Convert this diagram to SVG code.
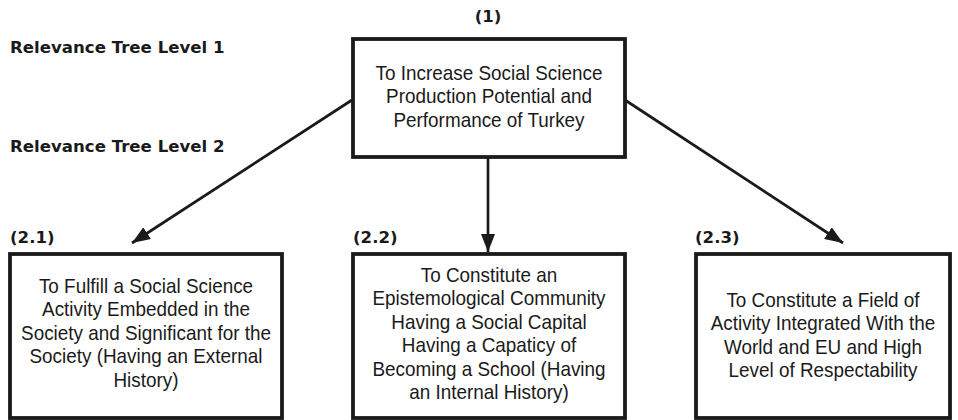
<svg xmlns="http://www.w3.org/2000/svg" width="958" height="420" viewBox="0 0 958 420">
<defs>
<marker id="ah" viewBox="0 0 18 14" refX="18" refY="7" markerWidth="18" markerHeight="14" markerUnits="userSpaceOnUse" orient="auto">
<path d="M0,0 L18,7 L0,14 Z" fill="#1a1a1a"/>
</marker>
<style>
.box{fill:#fff;stroke:#1a1a1a;stroke-width:3.8}
.t{font-family:"Liberation Sans","Arial",sans-serif;font-size:21px;fill:#1a1a1a;text-anchor:middle}
.b{font-family:"DejaVu Sans","Liberation Sans",sans-serif;font-weight:bold;font-size:16.6px;fill:#1a1a1a}
.c{stroke:#1a1a1a;stroke-width:2.7;fill:none;marker-end:url(#ah)}
</style>
</defs>
<text class="b" x="10" y="53">Relevance Tree Level 1</text>
<text class="b" x="10" y="152">Relevance Tree Level 2</text>
<g id="connectors">
<line class="c" x1="352" y1="100" x2="132" y2="243"/>
<line class="c" x1="488" y1="157" x2="488" y2="252"/>
<line class="c" x1="625" y1="100" x2="843" y2="243"/>
</g>
<g id="n1">
<text class="b" x="488" y="22" text-anchor="middle">(1)</text>
<rect class="box" x="353" y="39" width="272" height="118"/>
<g transform="translate(489 0) scale(0.9 1)">
<text class="t" x="0" y="80">To Increase Social Science</text>
<text class="t" x="0" y="103.5">Production Potential and</text>
<text class="t" x="0" y="127">Performance of Turkey</text>
</g>
</g>
<g id="n21">
<text class="b" x="10" y="243">(2.1)</text>
<rect class="box" x="10" y="254" width="272" height="164"/>
<g transform="translate(146 0) scale(0.9 1)">
<text class="t" x="0" y="293">To Fulfill a Social Science</text>
<text class="t" x="0" y="316.5">Activity Embedded in the</text>
<text class="t" x="0" y="340">Society and Significant for the</text>
<text class="t" x="0" y="363.5">Society (Having an External</text>
<text class="t" x="0" y="387">History)</text>
</g>
</g>
<g id="n22">
<text class="b" x="353" y="243">(2.2)</text>
<rect class="box" x="353" y="254" width="272" height="164"/>
<g transform="translate(489 0) scale(0.9 1)">
<text class="t" x="0" y="282">To Constitute an</text>
<text class="t" x="0" y="305.5">Epistemological Community</text>
<text class="t" x="0" y="329">Having a Social Capital</text>
<text class="t" x="0" y="352.5">Having a Capaticy of</text>
<text class="t" x="0" y="376">Becoming a School (Having</text>
<text class="t" x="0" y="399.5">an Internal History)</text>
</g>
</g>
<g id="n23">
<text class="b" x="695" y="243">(2.3)</text>
<rect class="box" x="696" y="254" width="254" height="164"/>
<g transform="translate(823 0) scale(0.9 1)">
<text class="t" x="0" y="307">To Constitute a Field of</text>
<text class="t" x="0" y="330.5">Activity Integrated With the</text>
<text class="t" x="0" y="354">World and EU and High</text>
<text class="t" x="0" y="377.5">Level of Respectability</text>
</g>
</g>
</svg>
